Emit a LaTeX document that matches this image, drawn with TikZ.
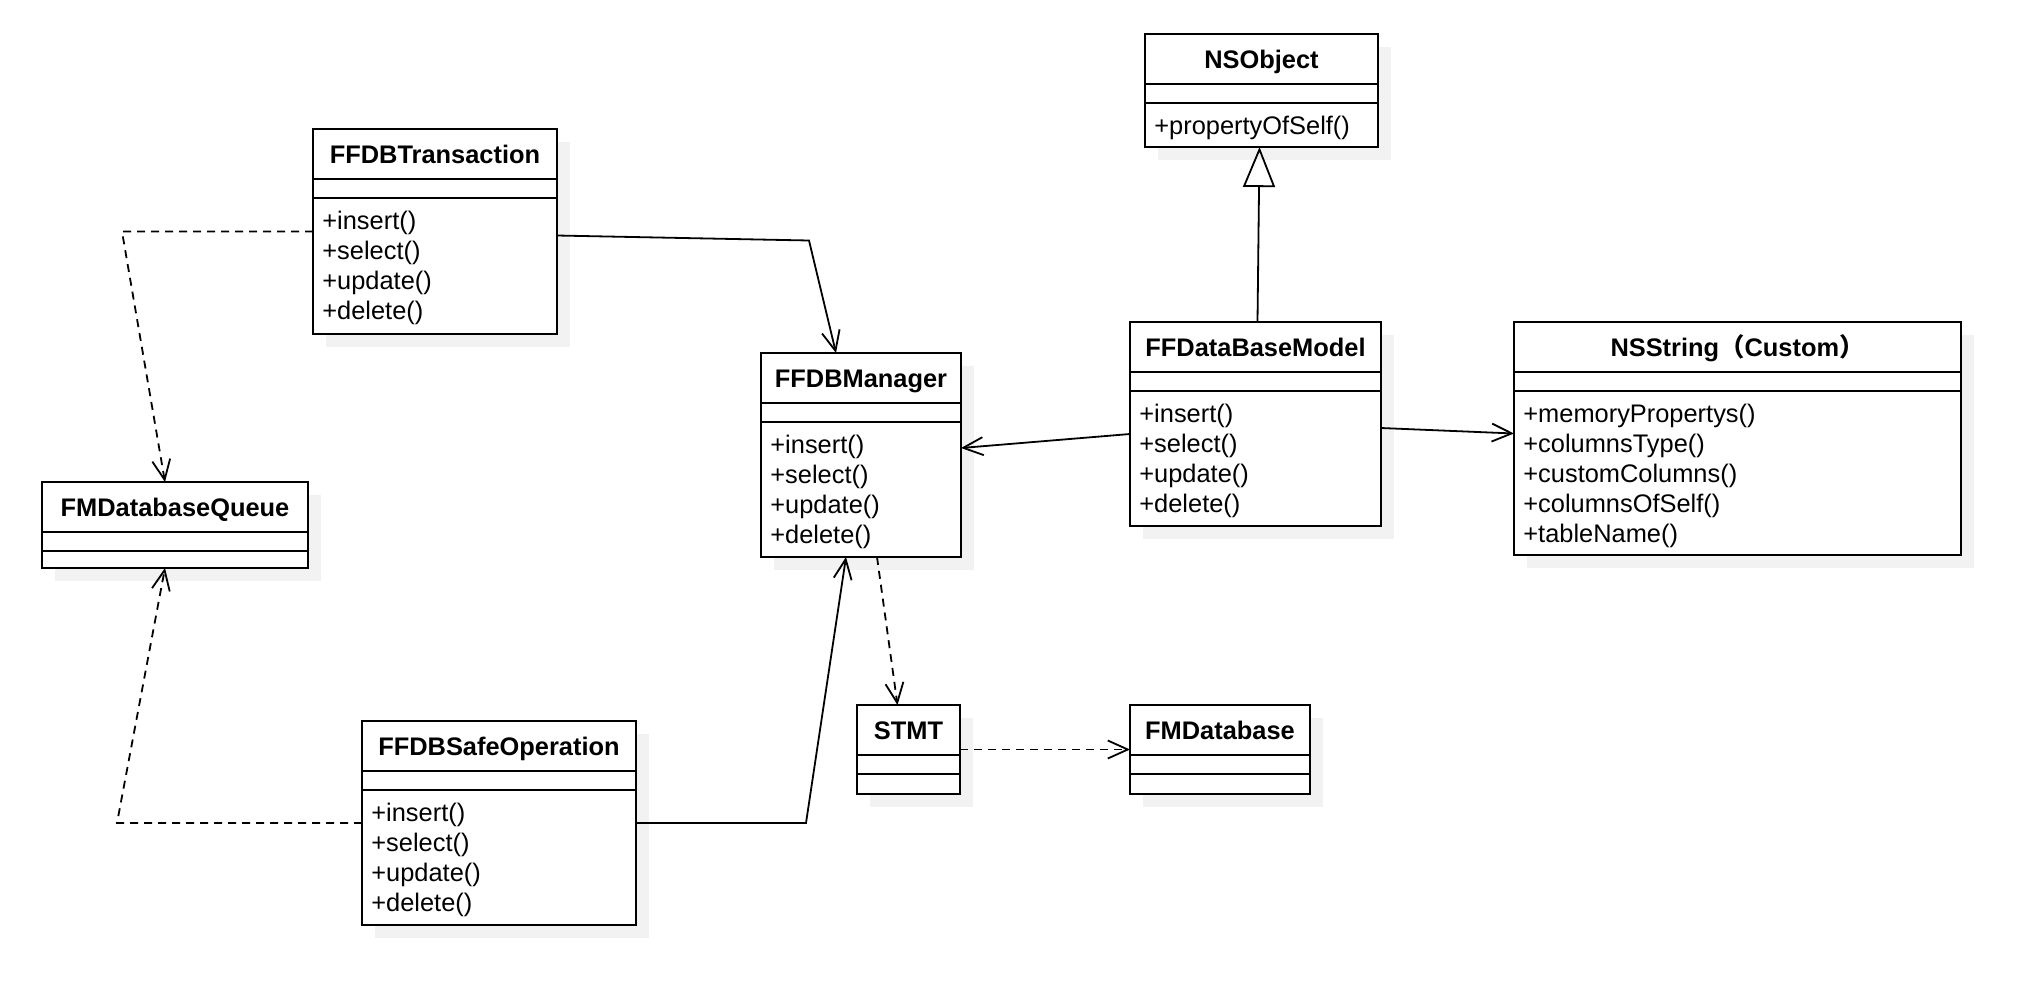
\documentclass[tikz,border=0pt]{standalone}
\usepackage{fontspec}
\setmainfont{Liberation Sans}
\newfontfamily\cjkfont{Noto Sans CJK SC}
\usetikzlibrary{calc, positioning, arrows.meta, shadows}

% one UML class: name, top-left corner, width, height, title, methods
\newcommand{\classbox}[6]{%
    \node[classbody, minimum width=#3*0.5pt, minimum height=#4*0.5pt, anchor=north west] (#1) at #2 {};
    \node[classtitle] (#1-title) at ($(#1.north)+(0,25)$) {#5};
    \draw[classline] ($(#1.north west)+(0,50)$) -- ($(#1.north east)+(0,50)$);
    \draw[classline] ($(#1.north west)+(0,69)$) -- ($(#1.north east)+(0,69)$);
    \node[classmethods] (#1-methods) at ($(#1.north west)+(9,82)$) {#6};
}

\tikzset{
    classbody/.style={draw, line width=1.1pt, fill=white, inner sep=0pt, outer sep=0pt,
        drop shadow={shadow xshift=6.5pt, shadow yshift=-6.5pt, fill=black!5, opacity=1}},
    classtitle/.style={font=\fontsize{12.7}{15}\selectfont\bfseries, inner sep=0pt,
        text height=9.1pt, text depth=0pt},
    classline/.style={line width=1.1pt},
    classmethods/.style={font=\fontsize{12.7}{15}\selectfont, align=left,
        anchor=north west, inner sep=0pt},
    assoc/.style={line width=0.9pt, -{Straight Barb[length=10pt, width=9pt]}},
    depend/.style={assoc, dash pattern=on 4pt off 3pt},
    inherit/.style={line width=0.9pt, -{Triangle[open, length=20pt, width=16pt]}},
}

\begin{document}
\begin{tikzpicture}[x=0.5pt, y=-0.5pt]

    % =================================================================
    % 1. CANVAS
    % =================================================================
    \fill[white] (0,0) rectangle (2020,992);
    \useasboundingbox (0,0) rectangle (2020,992);

    % =================================================================
    % 2. CLASSES
    % =================================================================
    \classbox{tr}{(313,129)}{244}{205}{FFDBTransaction}{+insert()\\+select()\\+update()\\+delete()}
    \classbox{queue}{(42,482)}{266}{86}{FMDatabaseQueue}{}
    \classbox{mgr}{(761,353)}{200}{204}{FFDBManager}{+insert()\\+select()\\+update()\\+delete()}
    \classbox{obj}{(1145,34)}{233}{113}{NSObject}{+propertyOfSelf()}
    \classbox{model}{(1130,322)}{251}{204}{FFDataBaseModel}{+insert()\\+select()\\+update()\\+delete()}
    \classbox{nsstr}{(1514,322)}{447}{233}{NSString{\cjkfont （}Custom{\cjkfont ）}}{+memoryPropertys()\\+columnsType()\\+customColumns()\\+columnsOfSelf()\\+tableName()}
    \classbox{safe}{(362,721)}{274}{204}{FFDBSafeOperation}{+insert()\\+select()\\+update()\\+delete()}
    \classbox{stmt}{(857,705)}{103}{89}{STMT}{}
    \classbox{fmdb}{(1130,705)}{180}{89}{FMDatabase}{}

    % =================================================================
    % 3. RELATIONS
    % =================================================================
    % dependencies on the queue
    \draw[depend] (tr.west) -- ++(-191,0) -- ($(queue.north)+(-10,0)$);
    \draw[depend] (safe.west) -- ++(-245,0) -- ($(queue.south)+(-10,0)$);

    % associations to the manager
    \draw[assoc] ($(tr.east)+(0,4)$) -- ++(252,5) -- ($(mgr.north)+(-25,0)$);
    \draw[assoc] (safe.east) -- ++(170,0) -- ($(mgr.south)+(-15,0)$);
    \draw[assoc] ($(model.west)+(0,10)$) -- ($(mgr.east)+(0,-7)$);

    % model
    \draw[inherit] ($(model.north)+(2,0)$) -- ($(obj.south)+(-2,0)$);
    \draw[assoc] ($(model.east)+(0,4)$) -- ($(nsstr.west)+(0,-5)$);

    % statement chain
    \draw[depend] ($(mgr.south)+(16,0)$) -- ($(stmt.north)+(-11,0)$);
    \draw[depend] (stmt.east) -- (fmdb.west);

\end{tikzpicture}
\end{document}
